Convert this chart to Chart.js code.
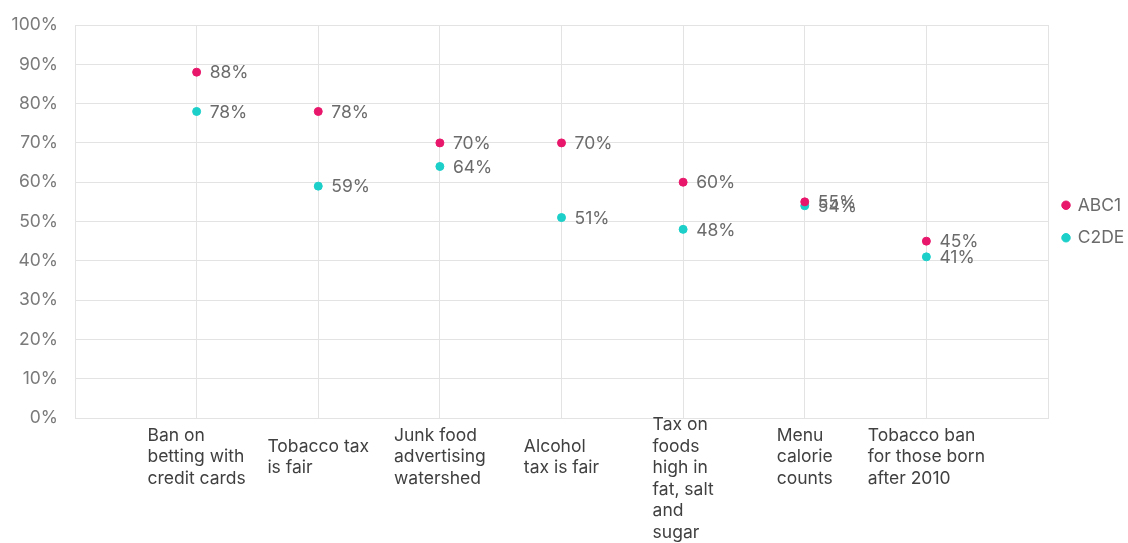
<!DOCTYPE html>
<html>
<head>
<meta charset="utf-8">
<script src="https://cdn.jsdelivr.net/npm/chart.js@4.4.1/dist/chart.umd.min.js"></script>
<style>
  html, body { margin: 0; padding: 0; background: #fff; }
  #wrap { width: 1128px; height: 543px; position: relative; }
</style>
</head>
<body>
<div id="wrap"><canvas id="chart"></canvas></div>
<script>
/* ── 数据 ── */
const categories = [
    ['Ban on', 'betting with', 'credit cards'],
    ['Tobacco tax', 'is fair'],
    ['Junk food', 'advertising', 'watershed'],
    ['Alcohol', 'tax is fair'],
    ['Tax on', 'foods', 'high in', 'fat, salt', 'and', 'sugar'],
    ['Menu', 'calorie', 'counts'],
    ['Tobacco ban', 'for those born', 'after 2010'],
];
const abc1 = [88, 78, 70, 70, 60, 55, 45];
const c2de = [78, 59, 64, 51, 48, 54, 41];
const yTicks = [0, 10, 20, 30, 40, 50, 60, 70, 80, 90, 100];

const FONT = 'Inter, "Noto Sans", sans-serif';
const PINK = '#e8176b';
const TEAL = '#1ccfc9';

// 数据点旁边的百分比标签
const valueLabels = {
    id: 'valueLabels',
    afterDatasetsDraw(chart) {
        const ctx = chart.ctx;
        ctx.save();
        ctx.font = '17.5px ' + FONT;
        ctx.fillStyle = '#6b6b6b';
        ctx.textAlign = 'left';
        ctx.textBaseline = 'middle';
        chart.data.datasets.forEach((ds, i) => {
            chart.getDatasetMeta(i).data.forEach((pt, j) => {
                ctx.fillText(ds.data[j].y + '%', pt.x + 13, pt.y + 1);
            });
        });
        ctx.restore();
    },
};

// 分类标签：整块居中，行内左对齐
const catLabels = {
    id: 'catLabels',
    afterDraw(chart) {
        const ctx = chart.ctx;
        const xs = chart.scales.x;
        const lineH = 21.5;
        const midY = chart.chartArea.bottom + 39;
        ctx.save();
        ctx.font = '17.5px ' + FONT;
        ctx.fillStyle = '#404040';
        ctx.textAlign = 'left';
        ctx.textBaseline = 'middle';
        categories.forEach((lines, i) => {
            const cx = xs.getPixelForValue(i + 1);
            const w = Math.max(...lines.map(l => ctx.measureText(l).width));
            let top = midY - (lines.length - 1) * lineH / 2;
            const maxTop = chart.height - 10 - (lines.length - 1) * lineH;
            top = Math.max(chart.chartArea.bottom + 7, Math.min(top, maxTop));
            lines.forEach((l, k) => ctx.fillText(l, cx - w / 2, top + k * lineH));
        });
        ctx.restore();
    },
};

const toPoints = arr => arr.map((v, i) => ({ x: i + 1, y: v }));

new Chart(document.getElementById('chart'), {
    type: 'scatter',
    data: {
        datasets: [
            { label: 'ABC1', data: toPoints(abc1), backgroundColor: PINK, borderColor: PINK, pointRadius: 4, pointHoverRadius: 4 },
            { label: 'C2DE', data: toPoints(c2de), backgroundColor: TEAL, borderColor: TEAL, pointRadius: 4, pointHoverRadius: 4 },
        ],
    },
    options: {
        responsive: true,
        maintainAspectRatio: false,
        animation: false,
        layout: { padding: { top: 25, bottom: 125, left: 0, right: 0 } },
        plugins: {
            tooltip: { enabled: false },
            legend: {
                position: 'right',
                maxWidth: 80,
                labels: {
                    usePointStyle: true,
                    pointStyle: 'circle',
                    boxWidth: 6,
                    boxHeight: 6,
                    padding: 15,
                    color: '#6b6b6b',
                    font: { family: FONT, size: 17.5 },
                },
            },
        },
        scales: {
            x: {
                type: 'linear',
                min: 0,
                max: categories.length + 1,
                ticks: { stepSize: 1, display: false },
                grid: { color: '#e3e3e3', drawTicks: false },
                border: { color: '#e3e3e3' },
            },
            y: {
                min: 0,
                max: 100,
                afterBuildTicks: s => { s.ticks = yTicks.map(v => ({ value: v })); },
                afterFit: s => { s.width = 75; s.paddingTop = 0; s.paddingBottom = 0; },
                ticks: {
                    callback: v => v + '%',
                    color: '#7a7a7a',
                    padding: 17,
                    font: { family: FONT, size: 17.5 },
                },
                grid: { color: '#e3e3e3', drawTicks: false },
                border: { color: '#e3e3e3' },
            },
        },
    },
    plugins: [valueLabels, catLabels],
});
</script>
</body>
</html>
